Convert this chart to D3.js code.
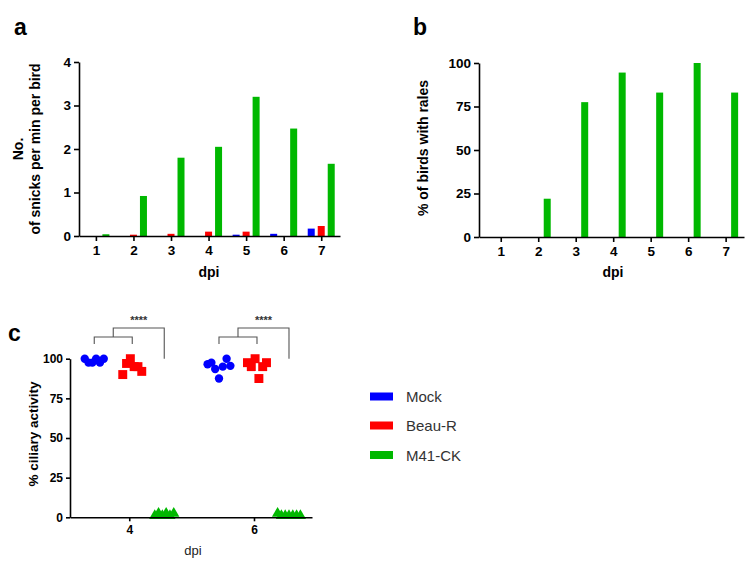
<!DOCTYPE html>
<html><head><meta charset="utf-8">
<script src="https://cdn.jsdelivr.net/npm/d3@7"></script>
<style>
body{margin:0;background:#fff;}
svg{display:block;font-family:"Liberation Sans",Arial,sans-serif;}
</style></head><body>
<svg id="c" width="755" height="568"></svg>
<script>
// ---------- DATA ----------
const days = [1,2,3,4,5,6,7];
const seriesNames = ["Mock","Beau-R","M41-CK"];
const colors = ["#0000ff","#ff0000","#00b800"];
// panel a: No. of snicks per min per bird
const snicksMock  = [0, 0, 0, 0, 0.03, 0.05, 0.17];
const snicksBeau  = [0, 0.03, 0.05, 0.10, 0.10, 0, 0.23];
const snicksM41   = [0.04, 0.92, 1.80, 2.05, 3.20, 2.47, 1.66];
const snickTicks  = [0,1,2,3,4];
// panel b: % of birds with rales (M41-CK)
const ralesM41    = [0, 22, 77.5, 94.5, 83, 100, 83];
const ralesTicks  = [0,25,50,75,100];
// panel c: % ciliary activity
const ciliaDays   = [4,6];
const ciliaMock4  = [100, 97.5, 97.5, 100, 97.5, 100];
const ciliaBeau4  = [90, 97, 100, 95, 95, 92];
const ciliaM414   = [0, 1.5, 0, 1.5, 0, 1.5];
const ciliaMock6  = [96.5, 97.5, 93.5, 87.5, 95, 100, 95.5];
const ciliaBeau6  = [97.5, 95, 100, 87.5, 95, 97.5];
const ciliaM416   = [1.5, 0, 0, 0, 0, 0, 0];
const ciliaTicks  = [0,25,50,75,100];
const sigLabel = "****";

const svg = d3.select("#c");
const FONT = '"Liberation Sans",Arial,sans-serif';
const fmt = d3.format("d");

function styleAxis(g, fs, bold){
  g.attr("font-size",null).attr("font-family",null);
  g.selectAll("path,line").attr("stroke","#000").attr("stroke-width",1.6);
  g.selectAll("text").style("font-size",fs+"px").style("font-weight",bold?"bold":"normal")
   .style("font-family",FONT).attr("fill","#000");
}

// ---------- PANEL A ----------
{
  const x = d3.scaleLinear().domain([0.55,7.5]).range([79,340]);
  const y = d3.scaleLinear().domain([0,4]).range([236,62]);
  const offs = [-10,0,10], bw = 7;
  const series = [snicksMock, snicksBeau, snicksM41];
  series.forEach((vals,si)=>{
    svg.append("g").selectAll("rect").data(vals).join("rect")
      .attr("x",(d,i)=>x(days[i])+offs[si]-bw/2)
      .attr("y",d=>y(d)).attr("width",bw)
      .attr("height",d=>Math.max(0,y(0)-y(d)))
      .attr("fill",colors[si]);
  });
  const gx = svg.append("g").attr("transform","translate(0,236)")
    .call(d3.axisBottom(x).tickValues(days).tickFormat(fmt).tickSize(5).tickSizeOuter(0).tickPadding(4));
  styleAxis(gx,13.5,true);
  const gy = svg.append("g").attr("transform","translate(79,0)")
    .call(d3.axisLeft(y).tickValues(snickTicks).tickFormat(fmt).tickSize(5).tickSizeOuter(0).tickPadding(3));
  styleAxis(gy,13.5,true);
  svg.append("text").attr("x",14).attr("y",35).text("a")
    .attr("font-size",23).attr("font-weight","bold");
  svg.append("text").attr("x",209).attr("y",277).attr("text-anchor","middle")
    .text("dpi").attr("font-size",14).attr("font-weight","bold");
  const yl = svg.append("text").attr("transform","translate(0,149) rotate(-90)")
    .attr("text-anchor","middle").attr("font-size",14).attr("font-weight","bold");
  yl.append("tspan").attr("x",0).attr("y",23).text("No.");
  yl.append("tspan").attr("x",0).attr("y",40).text("of snicks per min per bird");
}

// ---------- PANEL B ----------
{
  const x = d3.scaleLinear().domain([0.42,7.49]).range([479,744]);
  const y = d3.scaleLinear().domain([0,100]).range([237,63]);
  const bw = 7;
  svg.append("g").selectAll("rect").data(ralesM41).join("rect")
    .attr("x",(d,i)=>x(days[i])+9-bw/2).attr("y",d=>y(d)).attr("width",bw)
    .attr("height",d=>Math.max(0,y(0)-y(d))).attr("fill",colors[2]);
  const gx = svg.append("g").attr("transform","translate(0,237)")
    .call(d3.axisBottom(x).tickValues(days).tickFormat(fmt).tickSize(5).tickSizeOuter(0).tickPadding(4));
  styleAxis(gx,13.5,true);
  const gy = svg.append("g").attr("transform","translate(479,0)")
    .call(d3.axisLeft(y).tickValues(ralesTicks).tickFormat(fmt).tickSize(5).tickSizeOuter(0).tickPadding(3));
  styleAxis(gy,13.5,true);
  svg.append("text").attr("x",413).attr("y",35).text("b")
    .attr("font-size",23).attr("font-weight","bold");
  svg.append("text").attr("x",613).attr("y",277).attr("text-anchor","middle")
    .text("dpi").attr("font-size",14).attr("font-weight","bold");
  svg.append("text").attr("transform","translate(428,148) rotate(-90)")
    .attr("text-anchor","middle").attr("font-size",14).attr("font-weight","bold")
    .text("% of birds with rales");
}

// ---------- PANEL C ----------
{
  const x = d3.scaleLinear().domain([3.05,6.93]).range([70,312]);
  const y = d3.scaleLinear().domain([0,100]).range([517.3,358.7]);
  const offs = [-35,3,35];
  const groups = [
    [ciliaMock4, ciliaBeau4, ciliaM414],
    [ciliaMock6, ciliaBeau6, ciliaM416]
  ];
  const sym = [d3.symbolCircle, d3.symbolSquare, d3.symbolTriangle];
  const sizes = [55, 80, 55];
  groups.forEach((grp,di)=>{
    grp.forEach((vals,si)=>{
      const n = vals.length, step = 3.8;
      svg.append("g").selectAll("path").data(vals).join("path")
        .attr("d", d3.symbol().type(sym[si]).size(sizes[si]))
        .attr("transform",(d,i)=>{
          const cx = x(ciliaDays[di]) + offs[si] + (i-(n-1)/2)*step;
          const cy = y(d) - (si===2 ? 1.5 : 0);
          return `translate(${cx},${cy})`;
        })
        .attr("fill",colors[si]);
    });
    // significance brackets
    const cx = x(ciliaDays[di]);
    const l = cx+offs[0], r = cx+offs[1], g = cx+offs[2];
    const mid = (l+r)/2;
    const yTop = 328, ySmall = 337, yDrop = 344;
    const p = d3.path();
    p.moveTo(l,yDrop); p.lineTo(l,ySmall); p.lineTo(r,ySmall); p.lineTo(r,yDrop);
    p.moveTo(mid,ySmall); p.lineTo(mid,yTop); p.lineTo(g,yTop); p.lineTo(g,y(100));
    svg.append("path").attr("d",p.toString()).attr("fill","none")
      .attr("stroke","#555").attr("stroke-width",1.1);
    svg.append("text").attr("x",(mid+g)/2).attr("y",324).attr("text-anchor","middle")
      .attr("font-size",11).attr("font-weight","bold").attr("fill","#333").text(sigLabel);
  });
  const gx = svg.append("g").attr("transform","translate(0,517.3)")
    .call(d3.axisBottom(x).tickValues(ciliaDays).tickFormat(fmt).tickSize(4).tickSizeOuter(0).tickPadding(4));
  styleAxis(gx,12,true);
  const gy = svg.append("g").attr("transform","translate(70,0)")
    .call(d3.axisLeft(y).tickValues(ciliaTicks).tickFormat(fmt).tickSize(4).tickSizeOuter(0).tickPadding(3));
  styleAxis(gy,12,true);
  svg.append("text").attr("x",8).attr("y",341).text("c")
    .attr("font-size",23).attr("font-weight","bold");
  svg.append("text").attr("x",193).attr("y",555).attr("text-anchor","middle")
    .text("dpi").attr("font-size",13).attr("fill","#222");
  svg.append("text").attr("transform","translate(38,434) rotate(-90)")
    .attr("text-anchor","middle").attr("font-size",13.5).attr("font-weight","bold")
    .text("% ciliary activity");

  // legend
  const lg = svg.append("g");
  const ly = [396.5, 425.5, 455];
  seriesNames.forEach((nm,i)=>{
    lg.append("rect").attr("x",370).attr("y",ly[i]-4).attr("width",23).attr("height",8)
      .attr("fill",colors[i]);
    lg.append("text").attr("x",406).attr("y",ly[i]+5.5).attr("font-size",15)
      .attr("fill","#333").text(nm);
  });
}
</script></body></html>
